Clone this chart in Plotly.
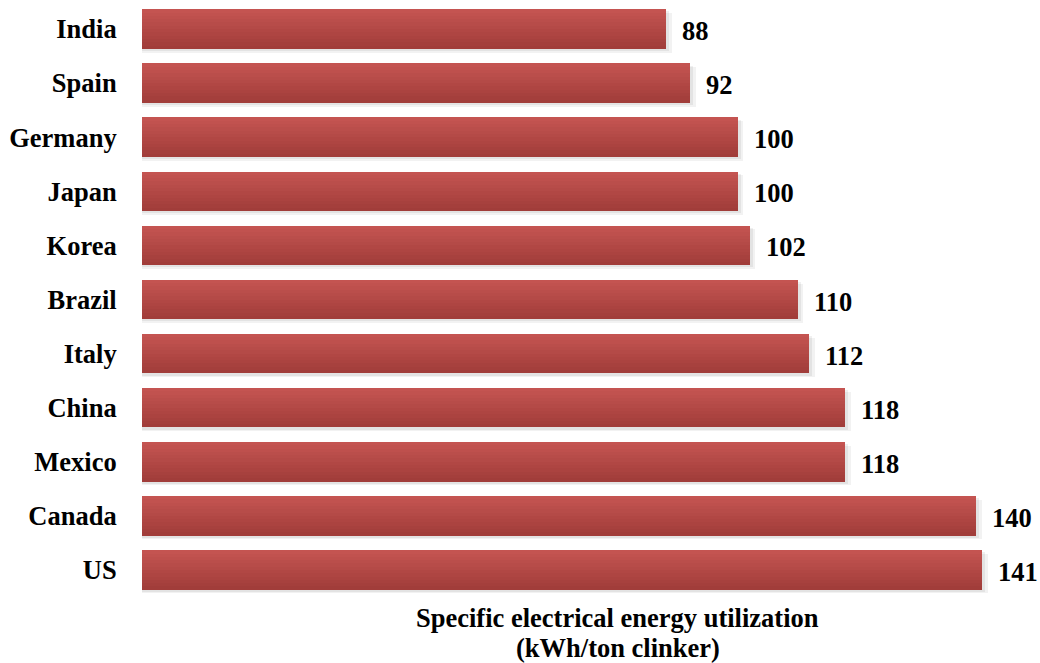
import plotly.graph_objects as go

countries = ["India", "Spain", "Germany", "Japan", "Korea", "Brazil",
             "Italy", "China", "Mexico", "Canada", "US"]
values = [88, 92, 100, 100, 102, 110, 112, 118, 118, 140, 141]

axis_title_lines = ["Specific electrical energy utilization", "(kWh/ton clinker)"]

FONT = "Liberation Serif, Times New Roman, serif"
FS = 26.5
BAR_W = 0.73
N_STRIPS = 12
TOP_RGB = (196, 84, 81)
BOT_RGB = (161, 61, 58)

fig = go.Figure()

# soft drop shadow behind each bar
for dx, dy, a in [(0.9, 0.07, 0.05), (0.5, 0.04, 0.06)]:
    fig.add_trace(go.Bar(
        y=countries, x=[v + dx for v in values], orientation="h",
        width=BAR_W, offset=-BAR_W / 2 + dy,
        marker=dict(color=f"rgba(0,0,0,{a})", line=dict(width=0)),
        hoverinfo="skip", showlegend=False,
    ))

# vertical gradient built from thin stacked strips
strip = BAR_W / N_STRIPS
for i in range(N_STRIPS):
    t = i / (N_STRIPS - 1)
    r, g, b = (round(TOP_RGB[k] + (BOT_RGB[k] - TOP_RGB[k]) * t) for k in range(3))
    fig.add_trace(go.Bar(
        y=countries, x=values, orientation="h",
        width=strip * 1.02, offset=-BAR_W / 2 + i * strip,
        marker=dict(color=f"rgb({r},{g},{b})", line=dict(width=0)),
        hoverinfo="skip", showlegend=False,
    ))

for c, v in zip(countries, values):
    fig.add_annotation(
        x=v, y=c, text=f"<b>{v}</b>", showarrow=False,
        xanchor="left", yanchor="middle", xshift=14, yshift=-2,
        font=dict(family=FONT, size=FS, color="black"),
    )

# two-line axis title under the bars
for line, ypos in zip(axis_title_lines, [-0.035, -0.086]):
    fig.add_annotation(
        x=0.536, y=ypos, xref="paper", yref="paper",
        text=f"<b>{line}</b>", showarrow=False,
        xanchor="center", yanchor="middle",
        font=dict(family=FONT, size=FS, color="black"),
    )

fig.update_layout(
    width=1040, height=663,
    margin=dict(l=142, r=10, t=2, b=66),
    barmode="overlay",
    bargap=0,
    plot_bgcolor="white", paper_bgcolor="white",
    xaxis=dict(range=[0, 149], showgrid=False, zeroline=False,
               showticklabels=False, showline=False, ticks=""),
    yaxis=dict(categoryorder="array", categoryarray=countries,
               autorange="reversed", showgrid=False, zeroline=False,
               showline=False, ticks="outside", ticklen=19,
               tickcolor="rgba(0,0,0,0)",
               tickfont=dict(family=FONT, size=FS, color="black")),
)

fig.update_yaxes(tickvals=countries, ticktext=[f"<b>{c}</b>" for c in countries])

fig.write_html("out.html")
